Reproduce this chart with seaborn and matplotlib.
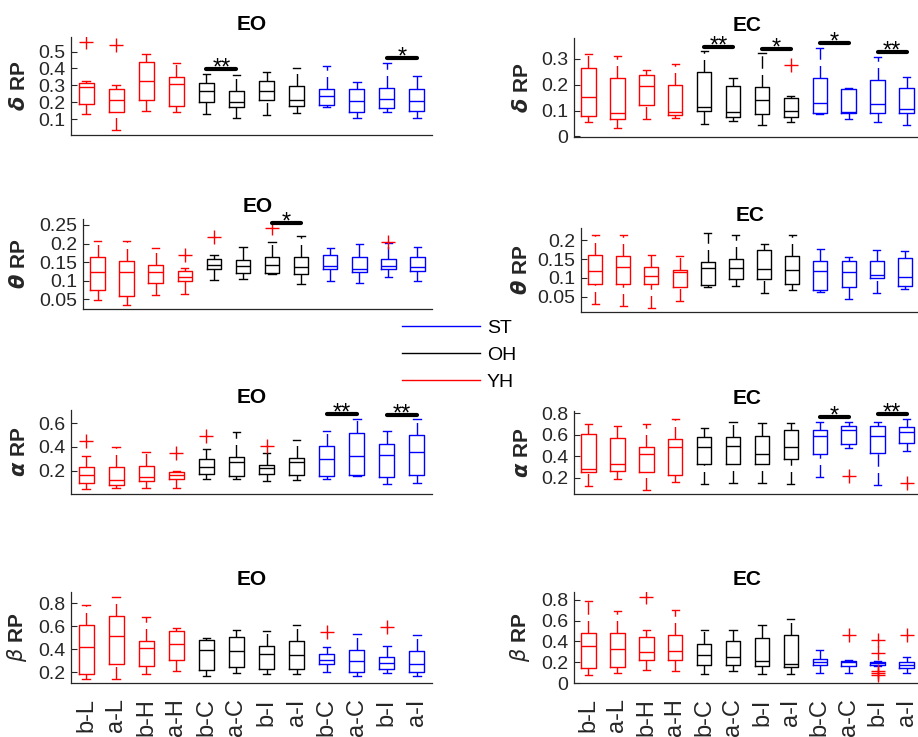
import matplotlib
matplotlib.use("Agg")
import numpy as np
import pandas as pd
import matplotlib.pyplot as plt
import seaborn as sns
from matplotlib.lines import Line2D

labels = ["b-L", "a-L", "b-H", "a-H", "b-C", "a-C", "b-I", "a-I", "b-C", "a-C", "b-I", "a-I"]
groups = ["YH"] * 4 + ["OH"] * 4 + ["ST"] * 4
colors = {"YH": "red", "OH": "black", "ST": "blue"}

# per box: lower whisker, q1, median, q3, upper whisker
delta_eo = [[0.130, 0.187, 0.288, 0.312, 0.328], [0.035, 0.144, 0.213, 0.276, 0.302],
            [0.150, 0.213, 0.328, 0.437, 0.486], [0.144, 0.177, 0.308, 0.348, 0.435],
            [0.128, 0.203, 0.266, 0.316, 0.367], [0.108, 0.173, 0.203, 0.268, 0.361],
            [0.124, 0.213, 0.268, 0.328, 0.377], [0.138, 0.177, 0.213, 0.296, 0.405],
            [0.169, 0.181, 0.239, 0.276, 0.417], [0.104, 0.140, 0.207, 0.278, 0.322],
            [0.140, 0.167, 0.217, 0.286, 0.435], [0.104, 0.150, 0.209, 0.276, 0.355]]
delta_ec = [[0.054, 0.078, 0.154, 0.266, 0.318], [0.032, 0.066, 0.090, 0.224, 0.309],
            [0.068, 0.122, 0.193, 0.237, 0.257], [0.073, 0.083, 0.094, 0.197, 0.281],
            [0.048, 0.099, 0.115, 0.248, 0.328], [0.061, 0.077, 0.096, 0.193, 0.225],
            [0.045, 0.087, 0.139, 0.189, 0.322], [0.055, 0.074, 0.100, 0.150, 0.158],
            [0.087, 0.092, 0.128, 0.224, 0.341], [0.066, 0.092, 0.096, 0.183, 0.186],
            [0.055, 0.092, 0.125, 0.219, 0.306], [0.045, 0.092, 0.105, 0.186, 0.228]]
theta_eo = [[0.048, 0.075, 0.124, 0.165, 0.207], [0.035, 0.059, 0.124, 0.153, 0.207],
            [0.062, 0.093, 0.123, 0.141, 0.187], [0.064, 0.100, 0.111, 0.127, 0.135],
            [0.102, 0.132, 0.142, 0.159, 0.169], [0.105, 0.120, 0.140, 0.156, 0.192],
            [0.118, 0.122, 0.142, 0.165, 0.205], [0.091, 0.117, 0.138, 0.165, 0.219],
            [0.100, 0.131, 0.140, 0.169, 0.187], [0.093, 0.124, 0.131, 0.165, 0.198],
            [0.111, 0.131, 0.140, 0.159, 0.201], [0.098, 0.127, 0.138, 0.165, 0.190]]
theta_ec = [[0.032, 0.085, 0.118, 0.160, 0.213], [0.025, 0.084, 0.128, 0.158, 0.213],
            [0.021, 0.083, 0.105, 0.129, 0.160], [0.039, 0.075, 0.116, 0.121, 0.158],
            [0.076, 0.081, 0.127, 0.143, 0.220], [0.078, 0.097, 0.127, 0.151, 0.213],
            [0.061, 0.098, 0.123, 0.173, 0.189], [0.068, 0.084, 0.121, 0.158, 0.213],
            [0.063, 0.069, 0.118, 0.144, 0.176], [0.044, 0.075, 0.115, 0.144, 0.156],
            [0.061, 0.100, 0.107, 0.144, 0.175], [0.070, 0.078, 0.103, 0.153, 0.171]]
alpha_eo = [[0.045, 0.099, 0.163, 0.228, 0.327], [0.051, 0.079, 0.121, 0.234, 0.397],
            [0.051, 0.115, 0.149, 0.242, 0.361], [0.056, 0.130, 0.163, 0.192, 0.200],
            [0.130, 0.172, 0.231, 0.299, 0.380], [0.127, 0.155, 0.273, 0.313, 0.530],
            [0.115, 0.169, 0.225, 0.248, 0.346], [0.121, 0.161, 0.270, 0.304, 0.459],
            [0.130, 0.158, 0.296, 0.408, 0.538], [0.155, 0.163, 0.327, 0.515, 0.637],
            [0.085, 0.144, 0.330, 0.428, 0.535], [0.099, 0.163, 0.361, 0.501, 0.634]]
alpha_ec = [[0.125, 0.250, 0.281, 0.607, 0.697], [0.188, 0.262, 0.327, 0.567, 0.685],
            [0.085, 0.250, 0.421, 0.489, 0.697], [0.156, 0.225, 0.489, 0.561, 0.744],
            [0.141, 0.327, 0.489, 0.576, 0.666], [0.153, 0.327, 0.498, 0.582, 0.716],
            [0.147, 0.324, 0.421, 0.589, 0.707], [0.138, 0.374, 0.483, 0.645, 0.707],
            [0.203, 0.418, 0.589, 0.645, 0.716], [0.474, 0.514, 0.645, 0.682, 0.722],
            [0.132, 0.427, 0.592, 0.685, 0.716], [0.449, 0.520, 0.629, 0.669, 0.747]]
beta_eo = [[0.139, 0.186, 0.417, 0.612, 0.786], [0.142, 0.272, 0.516, 0.690, 0.858],
           [0.186, 0.258, 0.409, 0.475, 0.684], [0.214, 0.307, 0.446, 0.559, 0.588],
           [0.171, 0.220, 0.394, 0.481, 0.496], [0.191, 0.243, 0.386, 0.510, 0.568],
           [0.183, 0.229, 0.357, 0.432, 0.559], [0.183, 0.229, 0.354, 0.472, 0.612],
           [0.206, 0.270, 0.307, 0.357, 0.417], [0.171, 0.206, 0.301, 0.394, 0.533],
           [0.197, 0.229, 0.278, 0.336, 0.432], [0.171, 0.206, 0.272, 0.388, 0.525]]
beta_ec = [[0.074, 0.144, 0.352, 0.480, 0.790], [0.096, 0.154, 0.326, 0.486, 0.698],
           [0.122, 0.218, 0.298, 0.442, 0.506], [0.112, 0.224, 0.310, 0.461, 0.704],
           [0.086, 0.173, 0.266, 0.378, 0.506], [0.112, 0.173, 0.246, 0.400, 0.512],
           [0.086, 0.166, 0.214, 0.432, 0.560], [0.090, 0.154, 0.186, 0.458, 0.618],
           [0.096, 0.176, 0.201, 0.230, 0.320], [0.096, 0.160, 0.198, 0.214, 0.224],
           [0.160, 0.169, 0.188, 0.204, 0.210], [0.096, 0.144, 0.176, 0.201, 0.250]]

# outliers: (box index, value)
delta_eo_out = [(0, 0.559), (1, 0.540)]
delta_ec_out = [(7, 0.274)]
theta_eo_out = [(3, 0.169), (4, 0.217), (6, 0.241), (10, 0.203)]
theta_ec_out = []
alpha_eo_out = [(0, 0.451), (3, 0.346), (4, 0.496), (6, 0.408)]
alpha_ec_out = [(9, 0.216), (11, 0.153)]
beta_eo_out = [(8, 0.548), (10, 0.591)]
beta_ec_out = [(2, 0.826), (9, 0.462), (10, 0.416), (10, 0.288), (10, 0.112),
               (10, 0.096), (10, 0.080), (11, 0.462)]

# significance bars: (left box index, height, stars)
delta_eo_sig = [(4, 0.397, "**"), (10, 0.464, "*")]
delta_ec_sig = [(4, 0.345, "**"), (6, 0.339, "*"), (8, 0.361, "*"), (10, 0.325, "**")]
theta_eo_sig = [(6, 0.254, "*")]
theta_ec_sig = []
alpha_eo_sig = [(8, 0.676, "**"), (10, 0.670, "**")]
alpha_ec_sig = [(8, 0.763, "*"), (10, 0.791, "**")]
beta_eo_sig = []
beta_ec_sig = []

W, H = 918, 737
plt.rcParams["font.family"] = ["Liberation Sans", "DejaVu Sans"]
plt.rcParams["mathtext.fontset"] = "dejavusans"
gray = "#262626"

fig = plt.figure(figsize=(W / 100, H / 100), dpi=100)


def px_rect(x0, y0, x1, y1):
    return [x0 / W, 1 - y1 / H, (x1 - x0) / W, (y1 - y0) / H]


panels = [
    (delta_eo, delta_eo_out, delta_eo_sig, r"$\mathbfit{\delta}$ RP", "EO",
     (0.005, 0.587), [0.1, 0.2, 0.3, 0.4, 0.5], px_rect(71, 37, 432, 135), 29),
    (delta_ec, delta_ec_out, delta_ec_sig, r"$\mathbfit{\delta}$ RP", "EC",
     (-0.002, 0.38), [0, 0.1, 0.2, 0.3], px_rect(574, 38, 921, 137), 532),
    (theta_eo, theta_eo_out, theta_eo_sig, r"$\mathbfit{\theta}$ RP", "EO",
     (0.024, 0.266), [0.05, 0.1, 0.15, 0.2, 0.25], px_rect(83, 219, 432, 309), 29),
    (theta_ec, theta_ec_out, theta_ec_sig, r"$\mathbfit{\theta}$ RP", "EC",
     (0.01, 0.232), [0.05, 0.1, 0.15, 0.2], px_rect(581, 228, 919, 312), 531),
    (alpha_eo, alpha_eo_out, alpha_eo_sig, r"$\mathbfit{\alpha}$ RP", "EO",
     (0.003, 0.712), [0.2, 0.4, 0.6], px_rect(71, 410, 432, 494), 29),
    (alpha_ec, alpha_ec_out, alpha_ec_sig, r"$\mathbfit{\alpha}$ RP", "EC",
     (0.048, 0.82), [0.2, 0.4, 0.6, 0.8], px_rect(574, 411, 921, 494), 532),
    (beta_eo, beta_eo_out, beta_eo_sig, r"$\mathit{\beta}$ RP", "EO",
     (0.107, 0.898), [0.2, 0.4, 0.6, 0.8], px_rect(71, 592, 432, 683), 29),
    (beta_ec, beta_ec_out, beta_ec_sig, r"$\mathit{\beta}$ RP", "EC",
     (0.0, 0.877), [0, 0.2, 0.4, 0.6, 0.8], px_rect(574, 592, 921, 683), 532),
]

for k, (stats, outs, sigs, ylab, title, ylim, yticks, rect, lab_x) in enumerate(panels):
    rows = []
    for i, s in enumerate(stats):
        for v in s:
            rows.append({"pos": i, "value": v, "grp": groups[i]})
    df = pd.DataFrame(rows)

    ax = fig.add_axes(rect)
    sns.boxplot(data=df, x="pos", y="value", hue="grp", palette=colors, fill=False,
                whis=(0, 100), width=0.5, dodge=False, linewidth=1, legend=False,
                whiskerprops={"linestyle": (0, (9, 4.5))}, ax=ax)
    # matlab draws whiskers from the lower end upward, so the dash pattern starts there
    for ln in ax.lines:
        xd, yd = np.asarray(ln.get_xdata()), np.asarray(ln.get_ydata())
        if len(xd) == 2 and xd[0] == xd[1]:
            ln.set_ydata(np.sort(yd))

    if outs:
        ax.plot([o[0] for o in outs], [o[1] for o in outs], linestyle="none",
                marker="+", color="red", ms=10, mew=1)
    for i, y, txt in sigs:
        ax.plot([i, i + 1], [y, y], color="black", lw=3, solid_capstyle="round")
        ax.annotate(txt, xy=(i + 0.5, y), xytext=(0, -4), textcoords="offset points",
                    ha="center", va="baseline", fontsize=17, color="black")

    ax.set_xlim(-0.5, 11.5)
    ax.set_ylim(*ylim)
    ax.set_yticks(yticks)
    ax.set_yticklabels([f"{v:g}" for v in yticks])
    ax.set_xticks(range(12))
    if k >= 6:
        ax.set_xticklabels(labels, rotation=90)
    else:
        ax.set_xticklabels([])
    ax.tick_params(axis="x", length=0, pad=11, labelsize=17, colors=gray)
    ax.tick_params(axis="y", direction="in", length=4, width=0.8, pad=4,
                   labelsize=14, colors=gray)
    ax.set_xlabel("")
    ax.set_ylabel(ylab, fontsize=15, fontweight="bold", color=gray)
    ax.yaxis.set_label_coords(lab_x / W, rect[1] + rect[3] / 2, transform=fig.transFigure)
    ax.set_title(title, fontsize=15, fontweight="bold", pad=5)
    sns.despine(ax=ax)
    for sp in ["left", "bottom"]:
        ax.spines[sp].set_color(gray)
        ax.spines[sp].set_linewidth(0.9)

handles = [Line2D([], [], color=colors[g], lw=1) for g in ["ST", "OH", "YH"]]
fig.legend(handles, ["ST", "OH", "YH"], loc="upper left",
           bbox_to_anchor=(402 / W, 1 - 319 / H), frameon=False, fontsize=14,
           handlelength=4.0, handletextpad=0.36, labelspacing=0.5,
           borderpad=0, borderaxespad=0)

fig.savefig("out.png", dpi=100)
